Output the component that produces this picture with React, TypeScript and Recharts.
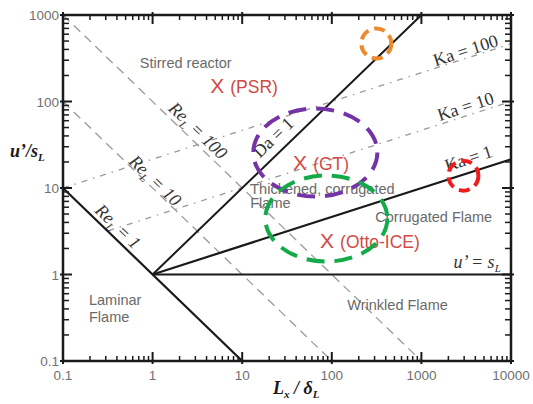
import { LineChart, Line, XAxis, YAxis, ReferenceDot } from 'recharts';

// regime boundaries (L/δ, u'/sL)
const reL1 = [{ x: 0.1, y: 10 }, { x: 10, y: 0.1 }];
const reL10 = [{ x: 0.1, y: 100 }, { x: 100, y: 0.1 }];
const reL100 = [{ x: 0.1, y: 1000 }, { x: 1000, y: 0.1 }];
const da1 = [{ x: 1, y: 1 }, { x: 1000, y: 1000 }];
const ka1 = [{ x: 1, y: 1 }, { x: 10000, y: 21.5 }];
const ka10 = [{ x: 0.32, y: 3.2 }, { x: 10000, y: 100 }];
const ka100 = [{ x: 0.1, y: 10 }, { x: 10000, y: 464 }];
const uEqualsS = [{ x: 1, y: 1 }, { x: 10000, y: 1 }];

const X_DECADES = [0.1, 1, 10, 100, 1000];
const Y_DECADES = [0.1, 1, 10, 100];
const X_LABELS = ['0.1', '1', '10', '100', '1000', '10000'];
const Y_LABELS = ['0.1', '1', '10', '100', '1000'];

const logTicks = (decades: number[]) => [
    ...decades.flatMap((d) => [1, 2, 3, 4, 5, 6, 7, 8, 9].map((k) => k * d)),
    decades[decades.length - 1] * 10,
];
const X_TICKS = logTicks(X_DECADES);
const Y_TICKS = logTicks(Y_DECADES);

const INK = '#1a1a1a';
const GREY = '#6a6a6a';
const RED = '#d24a45';
const SANS = 'Liberation Sans, Arial, sans-serif';
const SERIF = 'Liberation Serif, Times New Roman, serif';

const tickFont = { fontFamily: SANS, fontSize: 13.5, fill: '#707070' };

const isMajor = (v: number) => Math.abs(Math.log10(v) - Math.round(Math.log10(v))) < 1e-6;
const labelOf = (v: number, labels: string[]) => labels[Math.round(Math.log10(v)) + 1];

const BottomTick = ({ x, y, payload }: any) => {
    const major = isMajor(payload.value);
    return (
        <g>
            <line x1={x} x2={x} y1={y + (major ? 3 : 0)} y2={y - (major ? 9 : 5)} stroke={INK} strokeWidth={major ? 2 : 1.5} />
            {major && <text x={x} y={y + 19} textAnchor="middle" {...tickFont}>{labelOf(payload.value, X_LABELS)}</text>}
        </g>
    );
};

const TopTick = ({ x, y, payload }: any) => {
    const major = isMajor(payload.value);
    return <line x1={x} x2={x} y1={y - (major ? 3 : 0)} y2={y + (major ? 9 : 5)} stroke={INK} strokeWidth={major ? 2 : 1.5} />;
};

const LeftTick = ({ x, y, payload }: any) => {
    const major = isMajor(payload.value);
    return (
        <g>
            <line x1={x - (major ? 3 : 0)} x2={x + (major ? 9 : 6)} y1={y} y2={y} stroke={INK} strokeWidth={major ? 2 : 1.5} />
            {major && <text x={x - 4} y={y + 5} textAnchor="end" {...tickFont}>{labelOf(payload.value, Y_LABELS)}</text>}
        </g>
    );
};

const RightTick = ({ x, y, payload }: any) => {
    const major = isMajor(payload.value);
    return <line x1={x + (major ? 3 : 0)} x2={x - (major ? 9 : 6)} y1={y} y2={y} stroke={INK} strokeWidth={major ? 2 : 1.5} />;
};

const YTitle = ({ viewBox }: any) => (
    <text x={viewBox.x + 10} y={viewBox.y + 142} fontFamily={SERIF} fontWeight="bold" fontStyle="italic" fontSize={18} fill={INK}>
        u’/s<tspan fontSize={11} dy={4}>L</tspan>
    </text>
);

const XTitle = ({ viewBox }: any) => (
    <text x={viewBox.x + 210} y={viewBox.y + 33} fontFamily={SERIF} fontWeight="bold" fontStyle="italic" fontSize={18} fill={INK}>
        L<tspan fontSize={11} dy={4}>x</tspan>
        <tspan dy={-4}> / δ</tspan>
        <tspan fontSize={11} dy={4}>L</tspan>
    </text>
);

// annotation anchors in data coordinates
const at = (key: string, x: number, y: number, node: any) => (
    <ReferenceDot
        key={key}
        x={x}
        y={y}
        r={0}
        ifOverflow="visible"
        shape={(p: any) => <g transform={`translate(${p.cx},${p.cy})`}>{node}</g>}
    />
);

const grey = (t: string) => <text fontFamily={SANS} fontSize={14.5} fill={GREY}>{t}</text>;

const cross = (t: string) => (
    <text fontFamily={SANS} fill={RED}>
        <tspan fontSize={21}>X</tspan>
        <tspan fontSize={17.5} dx={6}>{t}</tspan>
    </text>
);

const slanted = (angle: number, body: any, italic = false) => (
    <g transform={`rotate(${angle})`}>
        <text y={6} textAnchor="middle" fontFamily={SERIF} fontStyle={italic ? 'italic' : 'normal'} fontSize={18} fill="#333">
            {body}
        </text>
    </g>
);

const reLabel = (n: string) => (
    <>
        Re<tspan fontSize={11} dy={4}>L</tspan>
        <tspan dy={-4}> = {n}</tspan>
    </>
);

const ring = (color: string, rx: number, ry: number, dash: string) => (
    <ellipse cx={0} cy={0} rx={rx} ry={ry} fill="none" stroke={color} strokeWidth={4} strokeDasharray={dash} />
);

const series = (key: string, data: any[], stroke: string, width: number, dash?: string) => (
    <Line
        key={key}
        data={data}
        dataKey="y"
        type="linear"
        stroke={stroke}
        strokeWidth={width}
        strokeDasharray={dash}
        dot={false}
        activeDot={false}
        isAnimationActive={false}
    />
);

export default function App() {
    return (
        <>
            <style>{'body{margin:0;overflow:hidden}'}</style>
            <LineChart width={533} height={404} margin={{ top: 14, right: 21, bottom: 0, left: 0 }}>
                <XAxis
                    dataKey="x"
                    type="number"
                    scale="log"
                    domain={[0.1, 10000]}
                    allowDataOverflow
                    ticks={X_TICKS}
                    interval={0}
                    tickSize={0}
                    tickMargin={0}
                    tick={<BottomTick />}
                    height={43}
                    axisLine={{ stroke: INK, strokeWidth: 2.5 }}
                    label={{ content: XTitle }}
                />
                <XAxis
                    xAxisId="top"
                    orientation="top"
                    dataKey="x"
                    type="number"
                    scale="log"
                    domain={[0.1, 10000]}
                    allowDataOverflow
                    ticks={X_TICKS}
                    interval={0}
                    tickSize={0}
                    tickMargin={0}
                    tick={<TopTick />}
                    height={1}
                    axisLine={{ stroke: INK, strokeWidth: 2.5 }}
                />
                <YAxis
                    type="number"
                    scale="log"
                    domain={[0.1, 1000]}
                    allowDataOverflow
                    ticks={Y_TICKS}
                    interval={0}
                    tickSize={0}
                    tickMargin={0}
                    tick={<LeftTick />}
                    width={63}
                    axisLine={{ stroke: INK, strokeWidth: 2.5 }}
                    label={{ content: YTitle }}
                />
                <YAxis
                    yAxisId="right"
                    orientation="right"
                    type="number"
                    scale="log"
                    domain={[0.1, 1000]}
                    allowDataOverflow
                    ticks={Y_TICKS}
                    interval={0}
                    tickSize={0}
                    tickMargin={0}
                    tick={<RightTick />}
                    width={1}
                    axisLine={{ stroke: INK, strokeWidth: 2.5 }}
                />

                {series('re10', reL10, '#9a9a9a', 1.3, '9 6')}
                {series('re100', reL100, '#9a9a9a', 1.3, '9 6')}
                {series('ka10', ka10, '#9a9a9a', 1.3, '6 6 1.5 6')}
                {series('ka100', ka100, '#9a9a9a', 1.3, '6 6 1.5 6')}
                {series('re1', reL1, INK, 2.2)}
                {series('da1', da1, INK, 2)}
                {series('ka1', ka1, INK, 2.2)}
                {series('us', uEqualsS, INK, 2.2)}

                {at('stirred', 0.72, 241, grey('Stirred reactor'))}
                {at('thick1', 12.3, 8.6, grey('Thickened, corrugated'))}
                {at('thick2', 12.3, 5.8, grey('Flame'))}
                {at('corr', 306, 4, grey('Corrugated Flame'))}
                {at('wrink', 149, 0.384, grey('Wrinkled Flame'))}
                {at('lam1', 0.195, 0.44, grey('Laminar'))}
                {at('lam2', 0.195, 0.279, grey('Flame'))}

                {at('psr', 4.4, 124, cross('(PSR)'))}
                {at('gt', 37, 16, cross('(GT)'))}
                {at('ice', 74, 2.05, cross('(Otto-ICE)'))}

                {at('ka100t', 3105, 389, slanted(-18, 'Ka = 100'))}
                {at('ka10t', 3105, 87.5, slanted(-18, 'Ka = 10'))}
                {at('ka1t', 3350, 22, slanted(-18, 'Ka = 1'))}
                {at('da1t', 22.2, 38.4, slanted(-44, 'Da = 1'))}
                {at('re100t', 3.22, 46.2, slanted(44, reLabel('100'), true))}
                {at('re10t', 1.07, 12.2, slanted(44, reLabel('10'), true))}
                {at('re1t', 0.412, 3.59, slanted(44, reLabel('1'), true))}
                {at('usl', 2280, 1.2, (
                    <text fontFamily={SERIF} fontStyle="italic" fontSize={18} fill="#333">
                        u’ = s<tspan fontSize={11} dy={4}>L</tspan>
                    </text>
                ))}

                {at('orange', 314, 469, ring('#ee8a2e', 15, 15, '11 6'))}
                {at('purple', 65.5, 25.7, ring('#7434a8', 62, 44, '18 10'))}
                {at('green', 86.9, 4.44, ring('#14aa48', 61, 43, '18 10'))}
                {at('red', 2944, 13.9, ring('#ee1c1c', 15, 15, '11 6'))}
            </LineChart>
        </>
    );
}
